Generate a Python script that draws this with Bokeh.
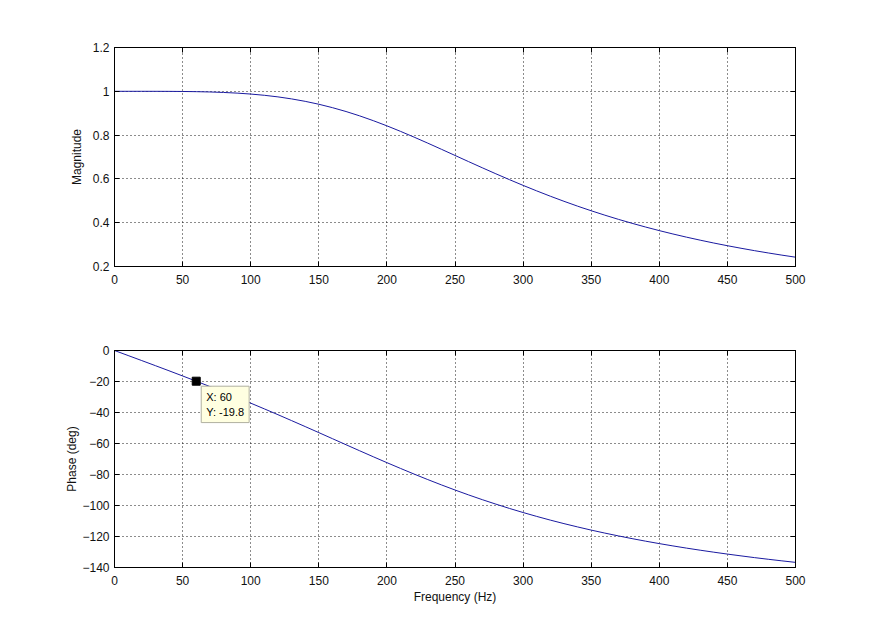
from bokeh.plotting import figure
from bokeh.layouts import column
from bokeh.models import LinearAxis, Label, FixedTicker, Range1d, CustomJSTickFormatter
from bokeh.embed import file_html
from bokeh.resources import INLINE

freq = [0, 10, 20, 30, 40, 50, 60, 70, 80, 90, 100, 110, 120, 130, 140, 150, 160, 170, 180, 190,
        200, 210, 220, 230, 240, 250, 260, 270, 280, 290, 300, 310, 320, 330, 340, 350, 360, 370,
        380, 390, 400, 410, 420, 430, 440, 450, 460, 470, 480, 490, 500]
magnitude = [1.0, 1.0, 1.0, 0.9999, 0.99967, 0.9992, 0.99835, 0.99695, 0.9948, 0.99171, 0.98744,
             0.98177, 0.97448, 0.96533, 0.95418, 0.94088, 0.92538, 0.90766, 0.8878, 0.86594,
             0.84227, 0.81708, 0.79065, 0.76329, 0.73534, 0.70711, 0.67886, 0.65088, 0.62335,
             0.59648, 0.5704, 0.5452, 0.52097, 0.49777, 0.4756, 0.45447, 0.43438, 0.4153, 0.39722,
             0.38008, 0.36385, 0.34849, 0.33396, 0.32022, 0.30722, 0.29491, 0.28327, 0.27225,
             0.26181, 0.25191, 0.24254]
phase = [0.0, -3.24, -6.5, -9.77, -13.07, -16.42, -19.8, -23.25, -26.76, -30.33, -33.96, -37.66,
         -41.41, -45.23, -49.08, -52.97, -56.88, -60.8, -64.69, -68.55, -72.35, -76.08, -79.73,
         -83.27, -86.7, -90.0, -93.18, -96.22, -99.12, -101.9, -104.53, -107.04, -109.43, -111.69,
         -113.83, -115.87, -117.8, -119.62, -121.37, -123.02, -124.58, -126.07, -127.49, -128.84,
         -130.12, -131.35, -132.51, -133.63, -134.69, -135.71, -136.69]
x_ticks = [0, 50, 100, 150, 200, 250, 300, 350, 400, 450, 500]
mag_ticks = [0.2, 0.4, 0.6, 0.8, 1.0, 1.2]
phase_ticks = [-140, -120, -100, -80, -60, -40, -20, 0]
tip_x = [60]
tip_y = [-19.8]

FONT = "Liberation Sans"
LINE = "#1a1aa0"


def style(p, yticks, ylabel_standoff):
    p.outline_line_color = "black"
    p.outline_line_width = 1
    p.background_fill_color = "white"
    p.border_fill_color = "white"
    for ax in p.xaxis + p.yaxis:
        ax.major_tick_in = 5
        ax.major_tick_out = 0
        ax.minor_tick_in = 0
        ax.minor_tick_out = 0
        ax.axis_line_color = "black"
        ax.major_tick_line_color = "black"
        ax.major_label_text_font = FONT
        ax.major_label_text_font_size = "12px"
        ax.major_label_text_color = "#111111"
        ax.axis_label_text_font = FONT
        ax.axis_label_text_font_size = "12px"
        ax.axis_label_text_font_style = "normal"
        ax.axis_label_text_color = "#111111"
    p.xaxis.ticker = FixedTicker(ticks=x_ticks)
    p.yaxis.ticker = FixedTicker(ticks=yticks)
    p.xaxis.major_label_standoff = 8
    p.yaxis.major_label_standoff = 5
    p.yaxis.axis_label_standoff = ylabel_standoff
    p.xaxis.axis_label_standoff = 2
    for g in (p.xgrid, p.ygrid):
        g.grid_line_color = "black"
        g.grid_line_dash = "1 3"
        g.grid_line_alpha = 0.9
    p.xgrid.ticker = FixedTicker(ticks=x_ticks)
    p.ygrid.ticker = FixedTicker(ticks=yticks)
    blank = CustomJSTickFormatter(code="return ''")
    top = LinearAxis(ticker=FixedTicker(ticks=x_ticks), formatter=blank,
                     major_tick_in=5, major_tick_out=0, minor_tick_in=0, minor_tick_out=0,
                     axis_line_color="black", major_label_standoff=0)
    right = LinearAxis(ticker=FixedTicker(ticks=yticks), formatter=blank,
                       major_tick_in=5, major_tick_out=0, minor_tick_in=0, minor_tick_out=0,
                       axis_line_color="black", major_label_standoff=0)
    p.add_layout(top, "above")
    p.add_layout(right, "right")


p1 = figure(width=877, height=310, output_backend="svg", toolbar_location=None,
            x_range=Range1d(0, 500), y_range=Range1d(0.2, 1.2),
            min_border_left=114, min_border_right=82, min_border_top=47, min_border_bottom=44)
p1.line(freq, magnitude, line_color=LINE, line_width=1)
p1.yaxis.axis_label = "Magnitude"
style(p1, mag_ticks, 6)
p1.add_layout(Label(x=250, y=1.2, y_offset=9, text="Bode Diagram", text_align="center",
                    text_baseline="bottom", text_font=FONT, text_font_size="12.5px",
                    text_color="#111111"))

p2 = figure(width=877, height=328, output_backend="svg", toolbar_location=None,
            x_range=Range1d(0, 500), y_range=Range1d(-140, 0),
            min_border_left=114, min_border_right=82, min_border_top=40, min_border_bottom=71)
p2.line(freq, phase, line_color=LINE, line_width=1)
p2.scatter(tip_x, tip_y, marker="square", size=8, fill_color="black", line_color="black")
p2.xaxis.axis_label = "Frequency (Hz)"
p2.yaxis.axis_label = "Phase (deg)"
style(p2, phase_ticks, 0)
p2.add_layout(Label(x=tip_x[0], y=tip_y[0], x_offset=5, y_offset=-5,
                    text="X: %g\nY: %g" % (tip_x[0], tip_y[0]),
                    text_align="left", text_baseline="top", text_font=FONT,
                    text_font_size="11px", text_color="black",
                    background_fill_color="#FFFFE1", border_line_color="#b0b0a0",
                    padding=5))

layout = column(p1, p2, spacing=0)
open("out.html", "w").write(file_html(layout, INLINE))
